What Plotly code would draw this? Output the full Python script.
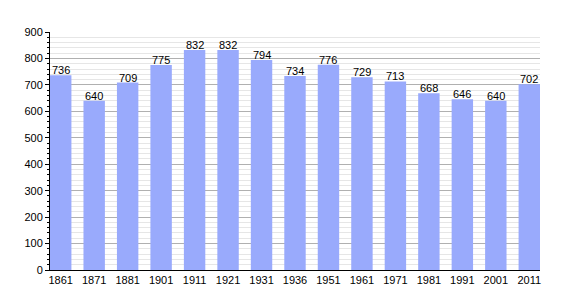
import plotly.graph_objects as go

years = ["1861", "1871", "1881", "1901", "1911", "1921", "1931", "1936",
         "1951", "1961", "1971", "1981", "1991", "2001", "2011"]
population = [736, 640, 709, 775, 832, 832, 794, 734, 776, 729, 713, 668, 646, 640, 702]
y_ticks = [0, 100, 200, 300, 400, 500, 600, 700, 800, 900]

fig = go.Figure()
fig.add_trace(go.Bar(
    x=years, y=population,
    marker=dict(color="#99aafc", line=dict(width=0)),
    width=0.64,
))

for i, v in enumerate(population):
    fig.add_annotation(
        x=i, y=v, text=str(v), showarrow=False,
        xanchor="center", yanchor="bottom", yshift=-3,
        font=dict(family="Liberation Sans, Arial", size=11, color="black"),
    )

fig.update_layout(
    width=570, height=300,
    margin=dict(l=50, r=30, t=32, b=30),
    plot_bgcolor="white", paper_bgcolor="white",
    showlegend=False,
    font=dict(family="Liberation Sans, Arial", size=11, color="black"),
)
fig.update_xaxes(
    type="category",
    range=[-0.32, len(years) - 0.68],
    showline=True, linecolor="black", linewidth=1,
    ticks="", showgrid=False,
    tickfont=dict(size=11),
)
fig.update_yaxes(
    range=[0, 900],
    tickvals=y_ticks,
    showline=True, linecolor="black", linewidth=1,
    ticks="outside", ticklen=4, tickcolor="black",
    showgrid=True, gridcolor="#b0b0b0", gridwidth=1,
    zeroline=False,
    minor=dict(dtick=20, showgrid=True, gridcolor="#e6e6e6",
               ticks="outside", ticklen=2, tickcolor="black"),
    tickfont=dict(size=11),
)

fig.write_html("out.html")
